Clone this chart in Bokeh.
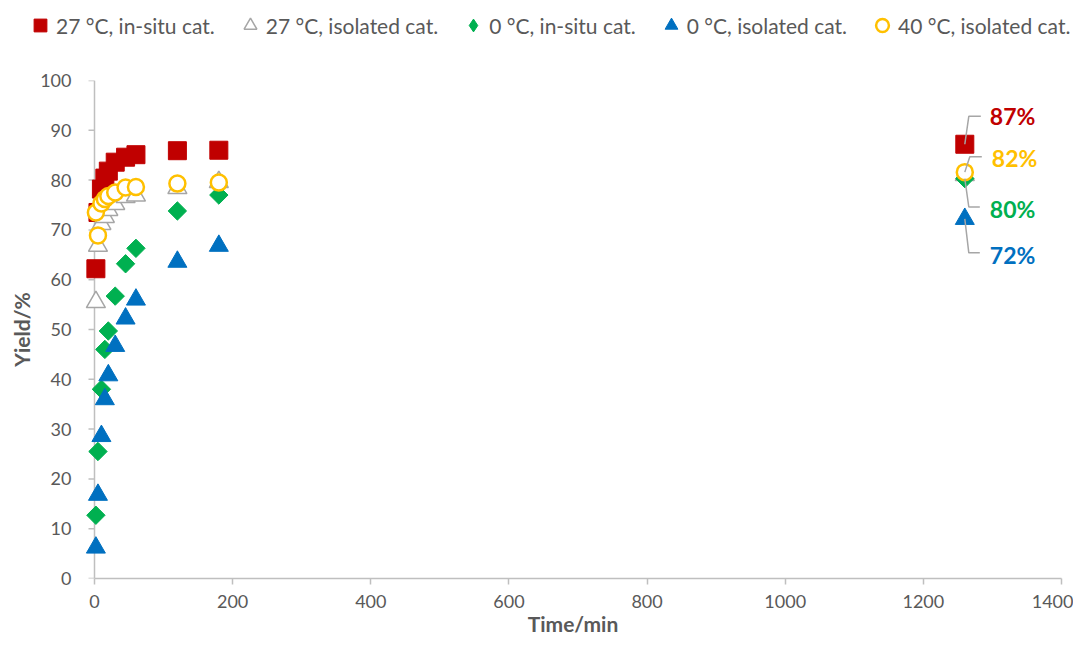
import math
from bokeh.plotting import figure
from bokeh.layouts import column
from bokeh.models import Range1d, Legend, LegendItem, Label, FixedTicker
from bokeh.embed import file_html
from bokeh.resources import INLINE

# ---------------- data ----------------
time_min = [2, 5, 10, 15, 20, 30, 45, 60, 120, 180, 1260]
yield_27c_insitu = [62.2, 73.5, 78.2, 80.4, 81.8, 83.6, 84.6, 85.1, 85.9, 86.0, 87.2]
yield_27c_isolated = [55.5, 66.8, 71.2, 72.6, 74.0, 75.2, 76.6, 76.9, 78.4, 79.6, 81.0]
yield_0c_insitu = [12.7, 25.5, 38.0, 46.0, 49.7, 56.7, 63.2, 66.3, 73.8, 77.0, 80.3]
yield_0c_isolated = [6.2, 16.8, 28.6, 36.0, 40.8, 46.7, 52.2, 56.0, 63.6, 66.8, 72.2]
yield_40c_isolated = [73.5, 68.9, 75.3, 76.2, 76.8, 77.5, 78.5, 78.6, 79.3, 79.5, 81.6]

series_labels = ["27 °C, in-situ cat.", "27 °C, isolated cat.", "0 °C, in-situ cat.",
                 "0 °C, isolated cat.", "40 °C, isolated cat."]
x_ticks = [0, 200, 400, 600, 800, 1000, 1200, 1400]
y_ticks = [0, 10, 20, 30, 40, 50, 60, 70, 80, 90, 100]
end_labels = ["87%", "82%", "80%", "72%"]

# ---------------- styles ----------------
FONT = "Lato"
GREY_TXT = "#595959"
AX = "#BFBFBF"
styles = [
    dict(marker="square", size=18, fill_color="#C00000", line_color="#C00000"),
    dict(marker="triangle", size=19, fill_color="white", line_color="#A6A6A6", line_width=1.5),
    dict(marker="square", size=13, angle=math.pi / 4, fill_color="#00B050", line_color="#00B050"),
    dict(marker="triangle", size=19, fill_color="#0070C0", line_color="#0070C0"),
    dict(marker="circle", size=16, fill_color="white", line_color="#FFC000", line_width=2.5),
]
# legend swatches (the legend ignores marker angle, so use a diamond there)
legend_styles = [dict(st) for st in styles]
legend_styles[2] = dict(marker="diamond", size=13, fill_color="#00B050", line_color="#00B050")
series = [yield_27c_insitu, yield_27c_isolated, yield_0c_insitu, yield_0c_isolated, yield_40c_isolated]

W = 1073
LEG_H = 50
MAIN_H = 588

# ---------------- legend strip ----------------
# the series are plotted here too, but all lie outside this strip's (0..1) y range,
# so only the legend entries show.
lg = figure(width=W, height=LEG_H, output_backend="svg", toolbar_location=None,
            x_axis_type=None, y_axis_type=None, x_range=Range1d(0, 1), y_range=Range1d(0, 1),
            min_border=0)
lg.frame_align = False
lg.outline_line_color = None
lg.grid.visible = False
leg_r = [lg.scatter(time_min, ys, **st) for ys, st in zip(series, legend_styles)]
legend = Legend(items=[LegendItem(label=lbl, renderers=[r]) for lbl, r in zip(series_labels, leg_r)],
                orientation="horizontal", location=(24, 5),
                glyph_width=32, glyph_height=40, label_standoff=0, spacing=19,
                padding=0, margin=0, border_line_color=None, background_fill_alpha=0,
                label_text_font=FONT, label_text_font_size="21px",
                label_text_color=GREY_TXT, label_height=40)
lg.add_layout(legend, "center")

# ---------------- main chart ----------------
X_START = -14.48
p = figure(width=W, height=MAIN_H, output_backend="svg", toolbar_location=None,
           x_range=Range1d(X_START, 1400), y_range=Range1d(0, 100),
           min_border_left=84, min_border_right=12, min_border_top=30, min_border_bottom=58)
p.frame_align = False
p.outline_line_color = None
p.grid.visible = False

for ax in (p.xaxis[0], p.yaxis[0]):
    ax.axis_line_color = AX
    ax.axis_line_width = 1.5
    ax.major_tick_line_color = AX
    ax.major_tick_line_width = 1.5
    ax.major_tick_in = 0
    ax.major_tick_out = 6
    ax.minor_tick_line_color = None
    ax.major_label_text_font = FONT
    ax.major_label_text_font_size = "18px"
    ax.major_label_text_color = GREY_TXT
    ax.axis_label_text_font = FONT
    ax.axis_label_text_font_size = "21px"
    ax.axis_label_text_font_style = "bold"
    ax.axis_label_text_color = GREY_TXT

p.xaxis.ticker = FixedTicker(ticks=x_ticks)
p.yaxis.ticker = FixedTicker(ticks=y_ticks)
p.xaxis.bounds = (0, 1400)
p.yaxis.bounds = (0, 100)
p.xaxis.axis_label = "Time/min"
p.yaxis.axis_label = "Yield/%"
p.xaxis.major_label_standoff = 10
p.xaxis.axis_label_standoff = 0
# y axis: labels/title from the Bokeh axis, its line and ticks drawn at x = 0
p.yaxis.axis_line_color = None
p.yaxis.major_tick_line_color = None
p.yaxis.major_tick_out = 0
p.yaxis.major_label_standoff = 13
p.yaxis.axis_label_standoff = 3

PX_X = (1400 - X_START) / (1061 - 84)   # data units per pixel (x)
PX_Y = 100 / 500                        # data units per pixel (y)

p.segment(x0=[0], y0=[0], x1=[0], y1=[100], line_color=AX, line_width=1.5)
p.segment(x0=[-6 * PX_X] * len(y_ticks), y0=y_ticks, x1=[0] * len(y_ticks), y1=y_ticks,
          line_color=AX, line_width=1.5)

for ys, st in zip(series, styles):
    p.scatter(time_min, ys, **st)

# ---------------- end-point labels with leader lines ----------------
last = len(time_min) - 1
end_series = [(yield_27c_insitu, "#C00000", (4, -28), 16, (25, -28)),
              (yield_40c_isolated, "#FFC000", (5, -15.5), 17, (27, -14)),
              (yield_0c_insitu, "#00B050", (4, 28.5), 15, (25, 30.5)),
              (yield_0c_isolated, "#0070C0", (4, 34), 15, (25, 36))]
for (ys, col, elbow, endx, lab), txt in zip(end_series, end_labels):
    x0, y0 = time_min[last], ys[last]
    xs = [x0, x0 + elbow[0] * PX_X, x0 + endx * PX_X]
    yy = [y0, y0 - elbow[1] * PX_Y, y0 - elbow[1] * PX_Y]
    p.line(xs, yy, line_color="#A6A6A6", line_width=1.5)
    p.add_layout(Label(x=x0, y=y0, x_offset=lab[0], y_offset=-lab[1], text=txt,
                       text_font=FONT, text_font_style="bold", text_font_size="23px",
                       text_color=col, text_baseline="middle", text_align="left"))

layout = column(lg, p, spacing=0)
open("out.html", "w").write(file_html(layout, INLINE))
